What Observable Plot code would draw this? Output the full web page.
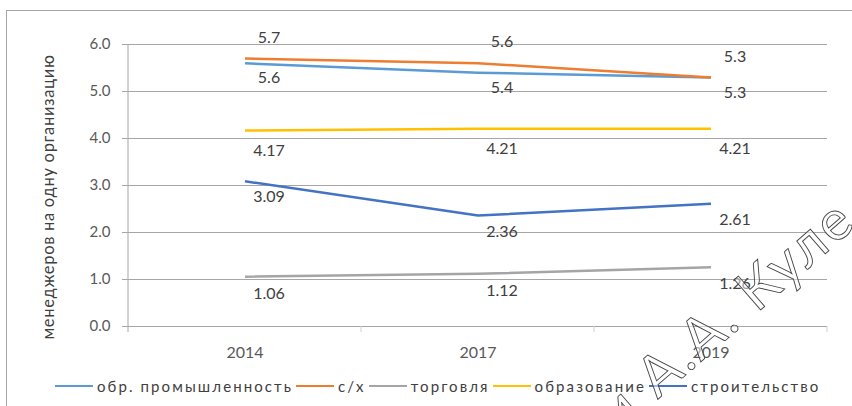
<!DOCTYPE html>
<html>
<head>
<meta charset="utf-8">
<script src="https://cdn.jsdelivr.net/npm/d3@7"></script>
<script src="https://cdn.jsdelivr.net/npm/@observablehq/plot@0.6"></script>
<style>
  html, body { margin: 0; padding: 0; background: #fff; }
  body { width: 852px; height: 406px; position: relative; overflow: hidden; font-family: Lato, "Open Sans", sans-serif; }
  #frame { position: absolute; left: 6px; top: 10px; width: 860px; height: 420px; border: 1px solid #a6a6a6; box-sizing: border-box; }
  #chart { position: absolute; left: 0; top: 0; }
  #legend { position: absolute; left: 55px; top: 377px; display: flex; align-items: center; font-size: 15px; color: #404040; letter-spacing: 2.1px; white-space: nowrap; }
  #legend .item { display: flex; align-items: center; margin-right: 3px; }
  #legend .sw { width: 38px; height: 2px; margin-right: 4px; }
  #ytitle { position: absolute; left: 48px; top: 197px; transform: translate(-50%, -50%) rotate(-90deg); font-size: 16.5px; color: #404040; white-space: nowrap; letter-spacing: 0.7px; }
  #wm { position: absolute; left: 0; top: 0; pointer-events: none; }
</style>
</head>
<body>
<div id="frame"></div>
<div id="chart"></div>
<div id="ytitle">менеджеров на одну организацию</div>
<div id="legend"></div>
<svg id="wm" width="852" height="406"><text x="618" y="434" transform="rotate(-41 618 434)" font-family="Lato, sans-serif" font-size="56" fill="#fff" fill-opacity="0.5" stroke="#444" stroke-width="0.9" letter-spacing="3">и А.А. Куле</text></svg>
<script>
const years = ["2014", "2017", "2019"];
const seriesNames = ["обр. промышленность", "с/х", "торговля", "образование", "строительство"];
const manufacturing = [5.6, 5.4, 5.3];
const agriculture = [5.7, 5.6, 5.3];
const trade = [1.06, 1.12, 1.26];
const education = [4.17, 4.21, 4.21];
const construction = [3.09, 2.36, 2.61];
const yTicks = [0, 1, 2, 3, 4, 5, 6];

const seriesValues = [manufacturing, agriculture, trade, education, construction];
const colors = ["#5B9BD5", "#ED7D31", "#A5A5A5", "#FFC000", "#4472C4"];
const labelDy = [15, -21, 17, 20, 16];

const rows = [];
seriesNames.forEach((s, i) => years.forEach((y, j) => rows.push({series: s, year: y, value: seriesValues[i][j], idx: i})));

const chart = Plot.plot({
  width: 852,
  height: 362,
  marginLeft: 128,
  marginRight: 25,
  marginTop: 44,
  marginBottom: 36,
  style: {fontFamily: "Lato, 'Open Sans', sans-serif", fontSize: "15px", color: "#595959", background: "transparent", overflow: "visible"},
  x: {type: "band", domain: years, padding: 0, label: null},
  y: {domain: [0, 6], label: null},
  color: {domain: seriesNames, range: colors},
  marks: [
    Plot.ruleY(yTicks, {stroke: "#a6a6a6", strokeWidth: 1, insetLeft: -6}),
    Plot.axisY(yTicks, {tickSize: 0, tickPadding: 18, tickFormat: d => d.toFixed(1), fontSize: 15, fill: "#595959", label: null}),
    Plot.axisX({tickSize: 0, tickPadding: 20, fontSize: 16, fill: "#595959", label: null}),
    Plot.line(rows, {x: "year", y: "value", z: "series", stroke: "series", strokeWidth: 2.5, strokeLinecap: "butt"}),
    ...seriesNames.map((s, i) => Plot.text(rows.filter(r => r.idx === i), {
      x: "year", y: "value", text: d => String(d.value), dx: 24, dy: labelDy[i],
      fill: "#404040", fontSize: 16
    }))
  ]
});
document.getElementById("chart").appendChild(chart);

// left axis line and category boundary ticks, positioned through the plot's own scales
const xs = chart.scale("x");
const ys = chart.scale("y");
const svg = d3.select(chart);
const left = xs.apply(years[0]);
const bounds = years.map(y => xs.apply(y)).concat([xs.apply(years[years.length - 1]) + xs.bandwidth]);
const y0 = ys.apply(0), yTop = ys.apply(6);
svg.append("line").attr("x1", left).attr("x2", left).attr("y1", yTop).attr("y2", y0 + 6).attr("stroke", "#a6a6a6");
bounds.slice(1).forEach(b => svg.append("line").attr("x1", b).attr("x2", b).attr("y1", y0).attr("y2", y0 + 6).attr("stroke", "#d0d0d0"));

const legend = document.getElementById("legend");
seriesNames.forEach((s, i) => {
  const it = document.createElement("div");
  it.className = "item";
  it.innerHTML = `<span class="sw" style="background:${colors[i]}"></span><span>${s}</span>`;
  legend.appendChild(it);
});
</script>
</body>
</html>
